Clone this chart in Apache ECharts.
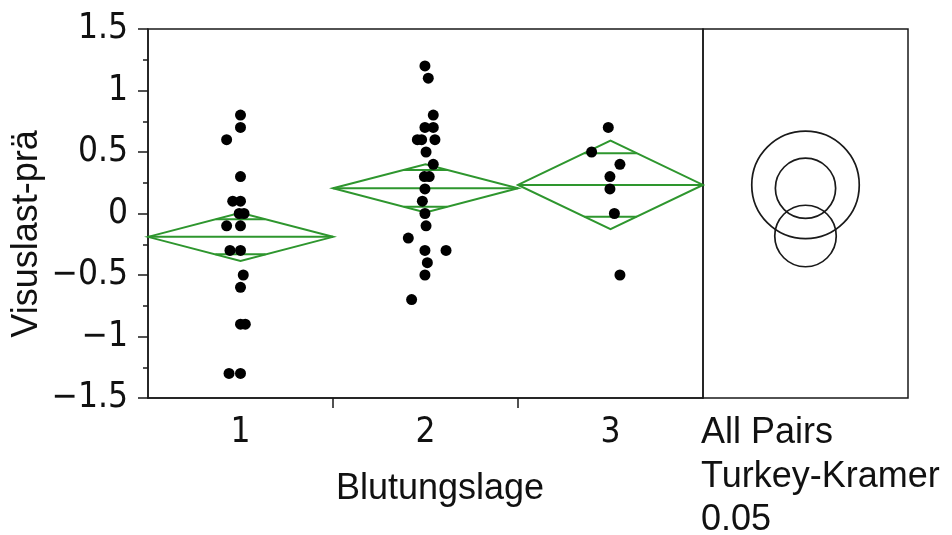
<!DOCTYPE html>
<html>
<head>
<meta charset="utf-8">
<script src="https://cdn.jsdelivr.net/npm/echarts@6/dist/echarts.min.js"></script>
<style>html,body{margin:0;padding:0;background:#fff}#c{width:952px;height:535px}</style>
</head>
<body>
<div id="c"></div>
<script>
// ---- data ----
const categories = ['1', '2', '3'];
const yTicks = [-1.5, -1, -0.5, 0, 0.5, 1, 1.5];

// group 1 (x position incl. jitter, value)
const g1X = [1.0, 1.0, 0.925, 1.0, 0.958, 1.0, 0.993, 1.019, 0.925, 1.0, 0.943, 1.0, 1.015, 1.0, 1.0, 1.026, 0.938, 1.0];
const g1Y = [0.8, 0.7, 0.6, 0.3, 0.1, 0.1, 0.0, 0.0, -0.1, -0.1, -0.3, -0.3, -0.5, -0.6, -0.9, -0.9, -1.3, -1.3];
// group 2
const g2X = [1.997, 2.015, 2.042, 1.997, 2.042, 1.956, 1.979, 2.051, 2.003, 2.042, 1.994, 2.02, 1.997, 1.983, 1.997, 2.003, 1.907, 1.997, 2.111, 2.01, 1.997, 1.925];
const g2Y = [1.2, 1.1, 0.8, 0.7, 0.7, 0.6, 0.6, 0.6, 0.5, 0.4, 0.3, 0.3, 0.2, 0.1, 0.0, -0.1, -0.2, -0.3, -0.3, -0.4, -0.5, -0.7];
// group 3
const g3X = [2.988, 2.898, 3.051, 2.997, 2.997, 3.021, 3.051];
const g3Y = [0.7, 0.5, 0.4, 0.3, 0.2, 0.0, -0.5];

// means diamonds
const groupPos = [1, 2, 3];
const groupMean = [-0.19, 0.205, 0.232];
const groupCIHalf = [0.195, 0.196, 0.36];
const overlapUpper = [-0.047, 0.354, 0.49];
const overlapLower = [-0.332, 0.055, -0.026];

// comparison circles (Tukey-Kramer)
const circleCenter = [-0.183, 0.205, 0.232];
const circleRadius = [0.25, 0.245, 0.437];

// ---- chart ----
const chart = echarts.init(document.getElementById('c'));
const zip = (xs, ys) => xs.map((x, i) => [x, ys[i]]);
const lineCol = '#1a1a1a';
const green = '#2e962e';
const tickFont = '"DejaVu Sans Condensed", "DejaVu Sans", sans-serif';
const textFont = '"Liberation Sans", Arial, sans-serif';

const diamondData = groupPos.map((g, i) => [g, groupMean[i], groupCIHalf[i], overlapUpper[i], overlapLower[i]]);
const circleData = circleCenter.map((c, i) => [0.5, c, circleRadius[i]]);
const dotStyle = { color: '#000', opacity: 1 };

chart.setOption({
  animation: false,
  grid: [
    { left: 148, top: 29, width: 555, height: 369, show: true, borderColor: lineCol, borderWidth: 1.5, containLabel: false },
    { left: 703, top: 29, width: 205, height: 369, show: true, borderColor: lineCol, borderWidth: 1.5, containLabel: false }
  ],
  xAxis: [
    {
      type: 'value', gridIndex: 0, min: 0.5, max: 3.5,
      splitLine: { show: false },
      axisLine: { show: true, onZero: false, lineStyle: { color: lineCol, width: 1.5 } },
      axisTick: { show: true, length: 10, customValues: [1.5, 2.5], lineStyle: { color: lineCol, width: 1.5 } },
      axisLabel: {
        customValues: groupPos, margin: 17, color: '#111', fontSize: 35, fontFamily: tickFont,
        formatter: v => categories[Math.round(v) - 1]
      }
    },
    { type: 'value', gridIndex: 1, min: 0, max: 1, show: false }
  ],
  yAxis: [
    {
      type: 'value', gridIndex: 0, min: -1.5, max: 1.5, interval: 0.5,
      splitLine: { show: false },
      axisLine: { show: true, onZero: false, lineStyle: { color: lineCol, width: 1.5 } },
      axisTick: { show: true, length: 10, lineStyle: { color: lineCol, width: 1.5 } },
      minorTick: { show: true, splitNumber: 2, length: 5, lineStyle: { color: lineCol, width: 1.5 } },
      axisLabel: {
        margin: 20, color: '#111', fontSize: 35, fontFamily: tickFont,
        customValues: yTicks,
        formatter: v => String(v).replace('-', '\u2212')
      }
    },
    { type: 'value', gridIndex: 1, min: -1.5, max: 1.5, show: false }
  ],
  series: [
    {
      type: 'custom', xAxisIndex: 0, yAxisIndex: 0, z: 2,
      data: diamondData,
      renderItem: (params, api) => {
        const g = api.value(0), m = api.value(1), ci = api.value(2), ou = api.value(3), ol = api.value(4);
        const L = api.coord([g - 0.5, m]), R = api.coord([g + 0.5, m]);
        const T = api.coord([g, m + ci]), B = api.coord([g, m - ci]);
        const hw = y => 0.5 * (1 - Math.abs(y - m) / ci);
        const seg = y => [api.coord([g - hw(y), y]), api.coord([g + hw(y), y])];
        const su = seg(ou), sl = seg(ol);
        const st = { stroke: green, lineWidth: 2, fill: null };
        return {
          type: 'group', children: [
            { type: 'polygon', shape: { points: [L, T, R, B] }, style: st },
            { type: 'line', shape: { x1: L[0], y1: L[1], x2: R[0], y2: R[1] }, style: st },
            { type: 'line', shape: { x1: su[0][0], y1: su[0][1], x2: su[1][0], y2: su[1][1] }, style: st },
            { type: 'line', shape: { x1: sl[0][0], y1: sl[0][1], x2: sl[1][0], y2: sl[1][1] }, style: st }
          ]
        };
      }
    },
    { type: 'scatter', xAxisIndex: 0, yAxisIndex: 0, z: 3, symbolSize: 11, itemStyle: dotStyle, data: zip(g1X, g1Y) },
    { type: 'scatter', xAxisIndex: 0, yAxisIndex: 0, z: 3, symbolSize: 11, itemStyle: dotStyle, data: zip(g2X, g2Y) },
    { type: 'scatter', xAxisIndex: 0, yAxisIndex: 0, z: 3, symbolSize: 11, itemStyle: dotStyle, data: zip(g3X, g3Y) },
    {
      type: 'custom', xAxisIndex: 1, yAxisIndex: 1, z: 2,
      data: circleData,
      renderItem: (params, api) => {
        const c = api.coord([api.value(0), api.value(1)]);
        const r = api.size([0, api.value(2)])[1];
        return { type: 'circle', shape: { cx: c[0], cy: c[1], r: r }, style: { stroke: lineCol, lineWidth: 1.7, fill: null } };
      }
    }
  ],
  graphic: [
    { type: 'text', x: 27, y: 234, rotation: Math.PI / 2,
      style: { text: 'Visuslast-prä', fontSize: 36, fontFamily: textFont, fill: '#111', align: 'center', verticalAlign: 'middle' } },
    { type: 'text', x: 440, y: 489,
      style: { text: 'Blutungslage', fontSize: 36, fontFamily: textFont, fill: '#111', align: 'center', verticalAlign: 'middle' } },
    { type: 'text', x: 701, y: 433,
      style: { text: 'All Pairs', fontSize: 36, fontFamily: textFont, fill: '#111', align: 'left', verticalAlign: 'middle' } },
    { type: 'text', x: 701, y: 477,
      style: { text: 'Turkey-Kramer', fontSize: 36, fontFamily: textFont, fill: '#111', align: 'left', verticalAlign: 'middle' } },
    { type: 'text', x: 701, y: 520,
      style: { text: '0.05', fontSize: 36, fontFamily: textFont, fill: '#111', align: 'left', verticalAlign: 'middle' } }
  ]
});
</script>
</body>
</html>
